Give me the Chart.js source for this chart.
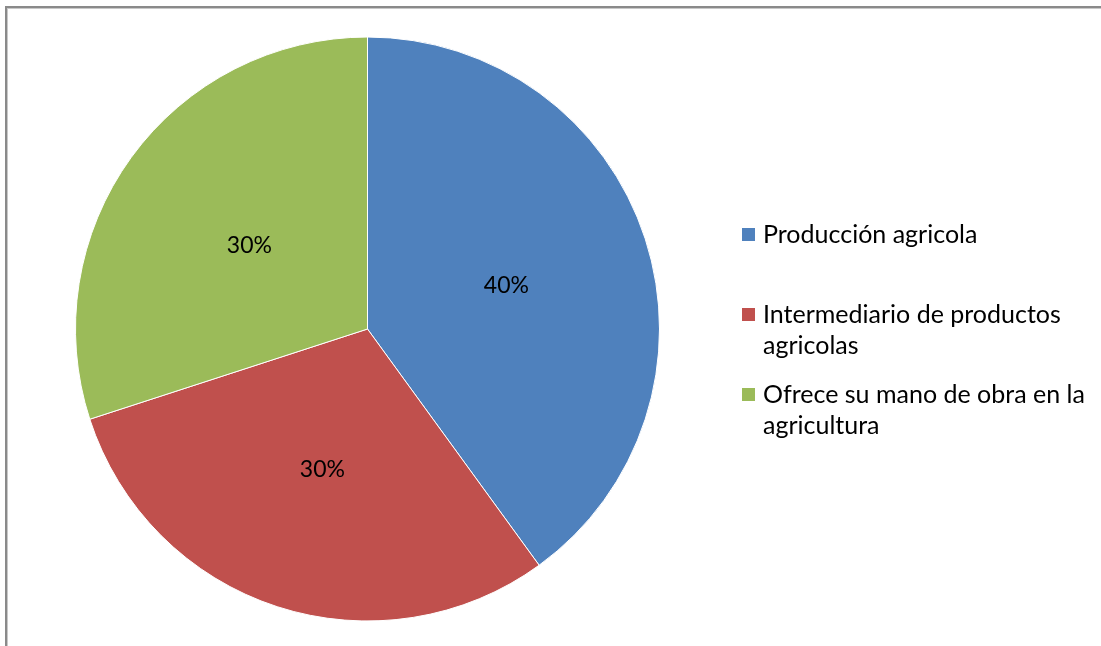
<!DOCTYPE html>
<html>
<head>
<meta charset="utf-8">
<script src="https://cdn.jsdelivr.net/npm/chart.js@4"></script>
<style>
  html, body { margin:0; padding:0; background:#fff; }
  #wrap { position:relative; width:1101px; height:646px; overflow:hidden; }
  #frame { position:absolute; left:5px; top:6px; width:1200px; height:800px;
           border-left:2px solid #8a8a8a; border-top:2px solid #8a8a8a;
           box-shadow: 1px 1px 0 #c8c8c8 inset; }
  canvas { position:absolute; left:0; top:0; }
  #legend { position:absolute; left:742px; top:0; font-family:Lato, "Liberation Sans", sans-serif;
            font-size:25px; color:#000; }
  .item { position:absolute; left:0; white-space:nowrap; }
  .sw { position:absolute; left:0; width:13px; height:13px; }
  .txt { position:absolute; left:21px; line-height:31px; }
</style>
</head>
<body>
<div id="wrap">
  <div id="frame"></div>
  <canvas id="c" width="1101" height="646"></canvas>
  <div id="legend"></div>
</div>
<script>
const categories = [
  ["Producción agricola"],
  ["Intermediario de productos", "agricolas"],
  ["Ofrece su mano de obra en la", "agricultura"]
];
const values = [40, 30, 30];
const valueLabels = ["40%", "30%", "30%"];
const colors = ["#4F81BD", "#C0504D", "#9BBB59"];

const labelPlugin = {
  id: 'sliceLabels',
  afterDatasetsDraw(chart) {
    const ctx = chart.ctx;
    const meta = chart.getDatasetMeta(0);
    ctx.save();
    ctx.font = '23px Lato, "Liberation Sans", sans-serif';
    ctx.fillStyle = '#000';
    ctx.textAlign = 'center';
    ctx.textBaseline = 'middle';
    meta.data.forEach((arc, i) => {
      const p = arc.tooltipPosition();
      ctx.fillText(valueLabels[i], p.x, p.y + 2);
    });
    ctx.restore();
  }
};

new Chart(document.getElementById('c'), {
  type: 'pie',
  data: {
    labels: categories.map(l => l.join(' ')),
    datasets: [{
      data: values,
      backgroundColor: colors,
      borderColor: '#ffffff',
      borderWidth: 1
    }]
  },
  options: {
    responsive: false,
    animation: false,
    layout: { padding: { left: 75, right: 441, top: 36.5, bottom: 24.5 } },
    plugins: { legend: { display: false }, tooltip: { enabled: false } }
  },
  plugins: [labelPlugin]
});

// HTML legend
const legendTops = [218, 298, 378];
const leg = document.getElementById('legend');
categories.forEach((lines, i) => {
  const item = document.createElement('div');
  item.className = 'item';
  item.style.top = legendTops[i] + 'px';
  const sw = document.createElement('div');
  sw.className = 'sw';
  sw.style.top = '10px';
  sw.style.background = colors[i];
  const t = document.createElement('div');
  t.className = 'txt';
  t.innerHTML = lines.join('<br>');
  item.appendChild(sw);
  item.appendChild(t);
  leg.appendChild(item);
});
</script>
</body>
</html>
